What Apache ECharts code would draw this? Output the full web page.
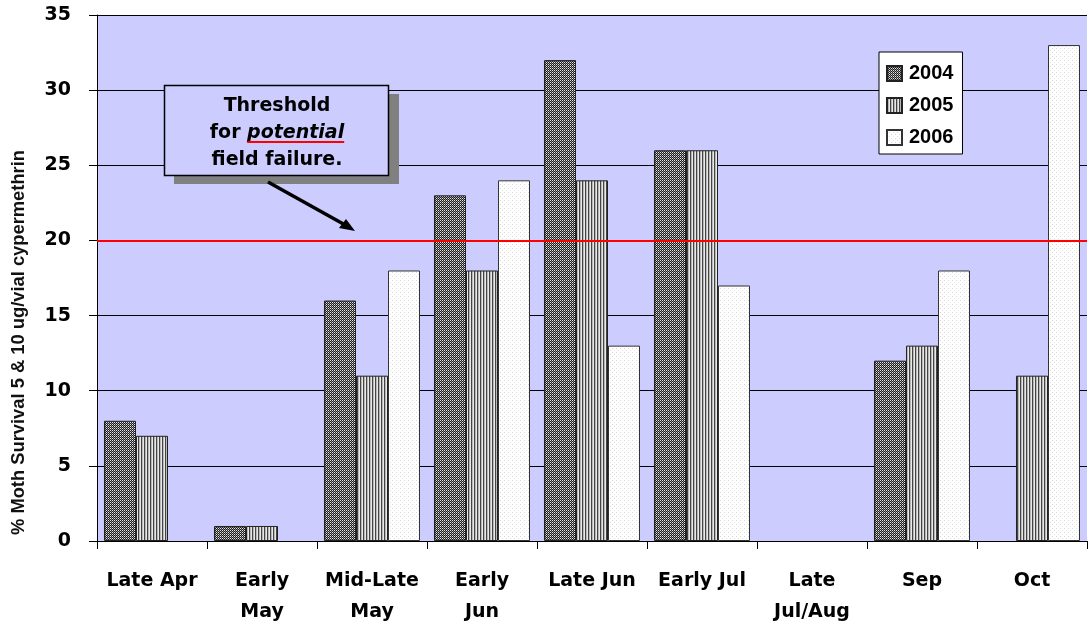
<!DOCTYPE html>
<html>
<head>
<meta charset="utf-8">
<script src="https://cdn.jsdelivr.net/npm/echarts@6/dist/echarts.min.js"></script>
<style>
  html, body { margin: 0; padding: 0; background: #fff; }
  #chart { width: 1090px; height: 630px; }
</style>
</head>
<body>
<div id="chart"></div>
<script>
// Sampling periods on the category axis
const categories = ['Late Apr', 'Early\nMay', 'Mid-Late\nMay', 'Early\nJun', 'Late Jun', 'Early Jul', 'Late\nJul/Aug', 'Sep', 'Oct'];
// Percent moth survival per season (null = not sampled)
const values2004 = [8, 1, 16, 23, 32, 26, null, 12, null];
const values2005 = [7, 1, 11, 18, 24, 26, null, 13, 11];
const values2006 = [null, null, 18, 24, 13, 17, null, 18, 33];
const thresholdValue = 20;
const yTicks = { min: 0, max: 35, interval: 5 };

const ARIAL = 'Arial, "Liberation Sans", sans-serif';
const WIDE = '"DejaVu Sans", Verdana, sans-serif';

// Small tiled canvases used as bar fills
function makePattern(size, painter) {
  const c = document.createElement('canvas');
  c.width = size; c.height = size;
  const ctx = c.getContext('2d');
  painter(ctx, size);
  return { image: c, repeat: 'repeat' };
}
function px(ctx, x, y, col) { ctx.fillStyle = col; ctx.fillRect(x, y, 1, 1); }

// 2004: dark fine mesh
const fill2004 = makePattern(4, (ctx, s) => {
  ctx.fillStyle = '#1e1e1e'; ctx.fillRect(0, 0, s, s);
  for (let y = 0; y < s; y++) for (let x = 0; x < s; x++) {
    if ((x + y) % 2 === 0 && y % 2 === 0) px(ctx, x, y, '#e6e6e6');
    else if ((x + y) % 2 === 0) px(ctx, x, y, '#8c8c8c');
  }
});
// 2005: grey vertical stripes
const fill2005 = makePattern(3, (ctx, s) => {
  ctx.fillStyle = '#444'; ctx.fillRect(0, 0, 1, s);
  ctx.fillStyle = '#b8b8b8'; ctx.fillRect(1, 0, 1, s);
  ctx.fillStyle = '#e8e8e8'; ctx.fillRect(2, 0, 1, s);
});
// 2006: white with faint dots
const fill2006 = makePattern(4, (ctx, s) => {
  ctx.fillStyle = '#ffffff'; ctx.fillRect(0, 0, s, s);
  px(ctx, 0, 0, '#d6d6d6');
  px(ctx, 2, 2, '#e2e2e2');
});

// text measuring helper for the callout underline and the axis title
const measureCtx = document.createElement('canvas').getContext('2d');
function textWidth(str, font) { measureCtx.font = font; return measureCtx.measureText(str).width; }

const chart = echarts.init(document.getElementById('chart'), null, { renderer: 'canvas' });

function barSeries(name, data, fill, extra) {
  return Object.assign({
    name: name,
    type: 'bar',
    data: data,
    barGap: '0%',
    barCategoryGap: '12.7%',
    itemStyle: { color: fill, borderColor: '#222', borderWidth: 1 },
    emphasis: { disabled: true },
    animation: false
  }, extra || {});
}

// axis title, stretched along its length to fill the span beside the axis
const titleText = '% Moth Survival 5 & 10 ug/vial cypermethrin';
const titleSize = 18;
const titleScale = 385 / textWidth(titleText, 'bold ' + titleSize + 'px ' + ARIAL);

// callout text metrics
const calloutSize = 19;
const calloutCx = 277;
const calloutCy = 133;
const calloutLine = 27;
const forW = textWidth('for ', 'bold ' + calloutSize + 'px ' + WIDE);
const potW = textWidth('potential', 'italic bold ' + calloutSize + 'px ' + WIDE);
const lineStart = calloutCx - (forW + potW) / 2 + forW;

const option = {
  animation: false,
  grid: {
    left: 97, right: 3, top: 15, bottom: 89,
    show: true, backgroundColor: '#CCCCFF', borderWidth: 0
  },
  legend: {
    orient: 'vertical',
    left: 879, top: 52,
    padding: [11, 9, 6, 7],
    itemWidth: 15, itemHeight: 15, itemGap: 11,
    backgroundColor: '#ffffff',
    borderColor: '#000', borderWidth: 1,
    textStyle: { fontFamily: ARIAL, fontWeight: 'bold', fontSize: 20, color: '#000', padding: [0, 0, 0, 2], lineHeight: 21 },
    data: ['2004', '2005', '2006'],
    icon: 'rect'
  },
  xAxis: {
    type: 'category',
    data: categories,
    axisLine: { lineStyle: { color: '#000', width: 1 } },
    axisTick: { show: true, length: 8, lineStyle: { color: '#000' } },
    axisLabel: {
      fontFamily: WIDE, fontWeight: 'bold', fontSize: 19, color: '#000',
      lineHeight: 31, margin: 25, interval: 0
    },
    splitLine: { show: false }
  },
  yAxis: {
    type: 'value',
    min: yTicks.min, max: yTicks.max, interval: yTicks.interval,
    axisLine: { show: true, lineStyle: { color: '#000', width: 1 } },
    axisTick: { show: true, length: 8, lineStyle: { color: '#000' } },
    axisLabel: { fontFamily: WIDE, fontWeight: 'bold', fontSize: 19, color: '#000', margin: 26 },
    splitLine: { show: true, lineStyle: { color: '#000', width: 1 } }
  },
  series: [
    barSeries('2004', values2004, fill2004, {
      markLine: {
        silent: true,
        symbol: ['none', 'none'],
        label: { show: false },
        lineStyle: { color: '#ff0000', width: 2, type: 'solid' },
        data: [{ yAxis: thresholdValue }],
        animation: false
      },
      z: 2
    }),
    barSeries('2005', values2005, fill2005),
    barSeries('2006', values2006, fill2006, { itemStyle: { color: fill2006, borderColor: '#333', borderWidth: 1 } })
  ],
  graphic: [
    {
      type: 'text',
      x: 10, y: 342.5,
      rotation: Math.PI / 2,
      scaleX: titleScale,
      style: {
        text: titleText,
        fontFamily: ARIAL,
        fontWeight: 'bold',
        fontSize: titleSize,
        fill: '#111',
        align: 'center',
        verticalAlign: 'top'
      },
      z: 10
    },
    // threshold callout: drop shadow, box, text, underline, arrow
    {
      type: 'rect',
      shape: { x: 174, y: 94, width: 225, height: 90 },
      style: { fill: '#808080' },
      z: 20
    },
    {
      type: 'rect',
      shape: { x: 164.5, y: 85.5, width: 224, height: 90 },
      style: { fill: '#CCCCFF', stroke: '#000', lineWidth: 1.5 },
      z: 21
    },
    {
      type: 'text',
      x: calloutCx, y: calloutCy,
      style: {
        text: '{b|Threshold}\n{b|for }{r|potential}\n{b|field failure.}',
        align: 'center', verticalAlign: 'middle',
        rich: {
          b: { fontFamily: WIDE, fontWeight: 'bold', fontSize: calloutSize, color: '#000', lineHeight: calloutLine },
          r: { fontFamily: WIDE, fontWeight: 'bold', fontStyle: 'italic', fontSize: calloutSize, color: '#ff0000', lineHeight: calloutLine }
        }
      },
      z: 22
    },
    {
      type: 'line',
      shape: { x1: lineStart, y1: calloutCy + 9, x2: lineStart + potW, y2: calloutCy + 9 },
      style: { stroke: '#ff0000', lineWidth: 2 },
      z: 22
    },
    {
      type: 'line',
      shape: { x1: 268, y1: 182, x2: 347, y2: 226 },
      style: { stroke: '#000', lineWidth: 3.5 },
      z: 22
    },
    {
      type: 'polygon',
      shape: { points: [[355, 231], [339, 228], [346, 219]] },
      style: { fill: '#000' },
      z: 22
    }
  ]
};

chart.setOption(option);
</script>
</body>
</html>
